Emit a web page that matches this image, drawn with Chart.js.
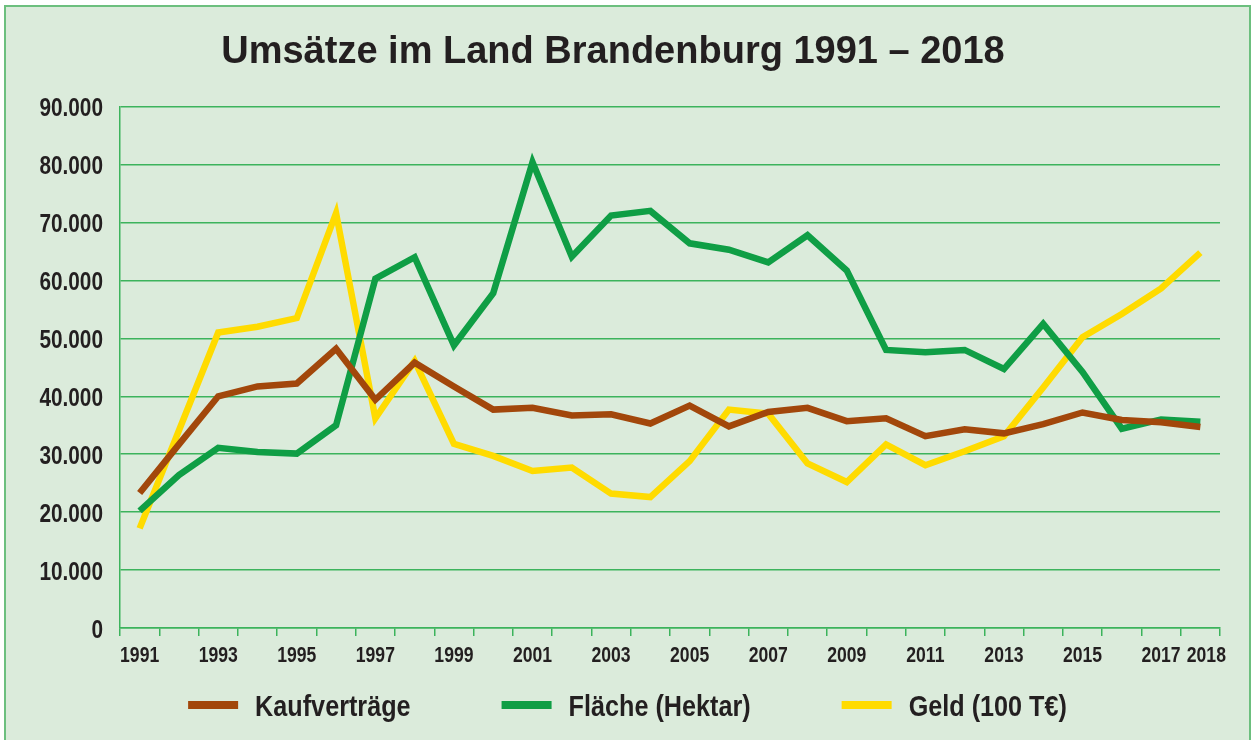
<!DOCTYPE html>
<html>
<head>
<meta charset="utf-8">
<script src="https://cdn.jsdelivr.net/npm/chart.js@4/dist/chart.umd.min.js"></script>
<style>
  html, body { margin: 0; padding: 0; background: #ffffff; overflow: hidden; }
  #frame {
    position: absolute; left: 4px; top: 5px; width: 1243px; height: 740px;
    border: 2px solid #6cbf7e; border-bottom: none; background: #dbebdb;
  }
  #wrap { position: absolute; left: 0; top: 0; width: 1243px; height: 733px; }
</style>
</head>
<body>
<div id="frame"><div id="wrap"><canvas id="c"></canvas></div></div>
<script>
const years = ['1991','1992','1993','1994','1995','1996','1997','1998','1999','2000',
  '2001','2002','2003','2004','2005','2006','2007','2008','2009','2010',
  '2011','2012','2013','2014','2015','2016','2017','2018'];

const kaufvertraege = [23300, 31700, 40000, 41700, 42200, 48200, 39400, 45800, 41700, 37700,
  38000, 36700, 36900, 35300, 38400, 34800, 37300, 38000, 35700, 36200,
  33100, 34300, 33600, 35200, 37200, 35900, 35500, 34700];

const flaeche = [20200, 26400, 31100, 30400, 30100, 35000, 60300, 64000, 48800, 57800,
  80400, 64100, 71200, 72000, 66400, 65300, 63100, 67800, 61700, 48000,
  47600, 48000, 44700, 52500, 44200, 34400, 36000, 35600];

const geld = [17200, 34100, 51000, 52000, 53500, 71600, 36200, 46100, 31800, 29700,
  27100, 27700, 23200, 22600, 28800, 37700, 37000, 28400, 25200, 31700,
  28100, 30500, 33100, 41500, 50200, 54200, 58600, 64800];

const seriesNames = ['Kaufverträge', 'Fläche (Hektar)', 'Geld (100 T€)'];
const titleText = 'Umsätze im Land Brandenburg 1991 – 2018';

const BROWN = '#a2470b', GREEN = '#0f9e45', YELLOW = '#ffdb00';
const GRID = '#3cb35c', TEXT = '#231f20';
const FONT = "'Liberation Sans', Arial, sans-serif";

function fmt(v) {
  if (v === 0) return '0';
  return Math.round(v / 1000) + '.000';
}
function xLabel(idx) {
  return (idx % 2 === 0 || idx === years.length - 1) ? years[idx] : '';
}

const mk = (label, data, color) => ({
  label, data, borderColor: color, backgroundColor: color,
  borderWidth: 6.5, pointRadius: 0, pointHoverRadius: 0, tension: 0,
  borderJoinStyle: 'miter', borderCapStyle: 'butt', fill: false
});

// draw condensed text (narrow font look)
function narrowText(ctx, text, x, y, sx, align) {
  const w = ctx.measureText(text).width * sx;
  let x0 = x;
  if (align === 'right') x0 = x - w;
  else if (align === 'center') x0 = x - w / 2;
  ctx.save();
  ctx.translate(x0, y);
  ctx.scale(sx, 1);
  ctx.textAlign = 'left';
  ctx.fillText(text, 0, 0);
  ctx.restore();
  return w;
}

// tick labels drawn from the chart's own scales, with condensed glyphs
const tickLabelPlugin = {
  id: 'narrowTicks',
  afterDraw(chart) {
    const ctx = chart.ctx;
    const xs = chart.scales.x, ys = chart.scales.y;
    ctx.save();
    ctx.fillStyle = TEXT;
    ctx.textBaseline = 'alphabetic';
    ctx.font = 'bold 26px ' + FONT;
    ys.ticks.forEach((t) => {
      const py = ys.getPixelForValue(t.value);
      narrowText(ctx, fmt(t.value), xs.left - 17, py + 9.5, 0.8, 'right');
    });
    ctx.font = 'bold 22px ' + FONT;
    xs.ticks.forEach((t, i) => {
      const lab = xLabel(i);
      if (!lab) return;
      const shift = (i === years.length - 1) ? 6 : 0;
      const px = xs.getPixelForTick(i) + shift;
      narrowText(ctx, lab, px, xs.top + 34, 0.8, 'center');
    });
    ctx.restore();
  }
};

// custom legend drawn below the plot
const legendPlugin = {
  id: 'bottomLegend',
  afterDraw(chart) {
    const ctx = chart.ctx;
    const boxW = 50, boxH = 8, gap = 17, spacing = 91, sx = 0.84;
    ctx.save();
    ctx.font = 'bold 30px ' + FONT;
    ctx.textBaseline = 'alphabetic';
    const items = chart.data.datasets.map(ds => ({
      text: ds.label, color: ds.borderColor, w: ctx.measureText(ds.label).width * sx
    }));
    const total = items.reduce((s, it) => s + boxW + gap + it.w, 0) + spacing * (items.length - 1);
    let x = chart.width / 2 - total / 2;
    const y = 698;
    items.forEach(it => {
      ctx.fillStyle = it.color;
      ctx.fillRect(x, y - boxH / 2, boxW, boxH);
      x += boxW + gap;
      ctx.fillStyle = TEXT;
      narrowText(ctx, it.text, x, y + 11, sx, 'left');
      x += it.w + spacing;
    });
    ctx.restore();
  }
};

new Chart(document.getElementById('c'), {
  type: 'line',
  data: {
    labels: years,
    datasets: [
      mk(seriesNames[0], kaufvertraege, BROWN),
      mk(seriesNames[1], flaeche, GREEN),
      mk(seriesNames[2], geld, YELLOW)
    ]
  },
  plugins: [tickLabelPlugin, legendPlugin],
  options: {
    responsive: true, maintainAspectRatio: false, animation: false,
    layout: { padding: { left: 0, right: 29, top: 0, bottom: 62 } },
    plugins: {
      title: {
        display: true, text: titleText, color: TEXT,
        font: { family: FONT, size: 38, weight: 'bold' },
        padding: { top: 23, bottom: 31 }
      },
      legend: { display: false },
      tooltip: { enabled: false }
    },
    scales: {
      x: {
        offset: true,
        afterFit(scale) { scale.height = 50; },
        grid: { offset: true, display: true, drawOnChartArea: false, drawTicks: true,
                tickLength: 8, color: GRID, lineWidth: 1.5 },
        border: { display: true, color: GRID, width: 1.5 },
        ticks: { display: false, autoSkip: false, maxRotation: 0 }
      },
      y: {
        min: 0, max: 90000,
        afterFit(scale) { scale.width = 114; },
        grid: { color: GRID, lineWidth: 1.5, drawTicks: false },
        border: { display: true, color: GRID, width: 1.5 },
        ticks: { display: false, stepSize: 10000 }
      }
    }
  }
});
</script>
</body>
</html>
